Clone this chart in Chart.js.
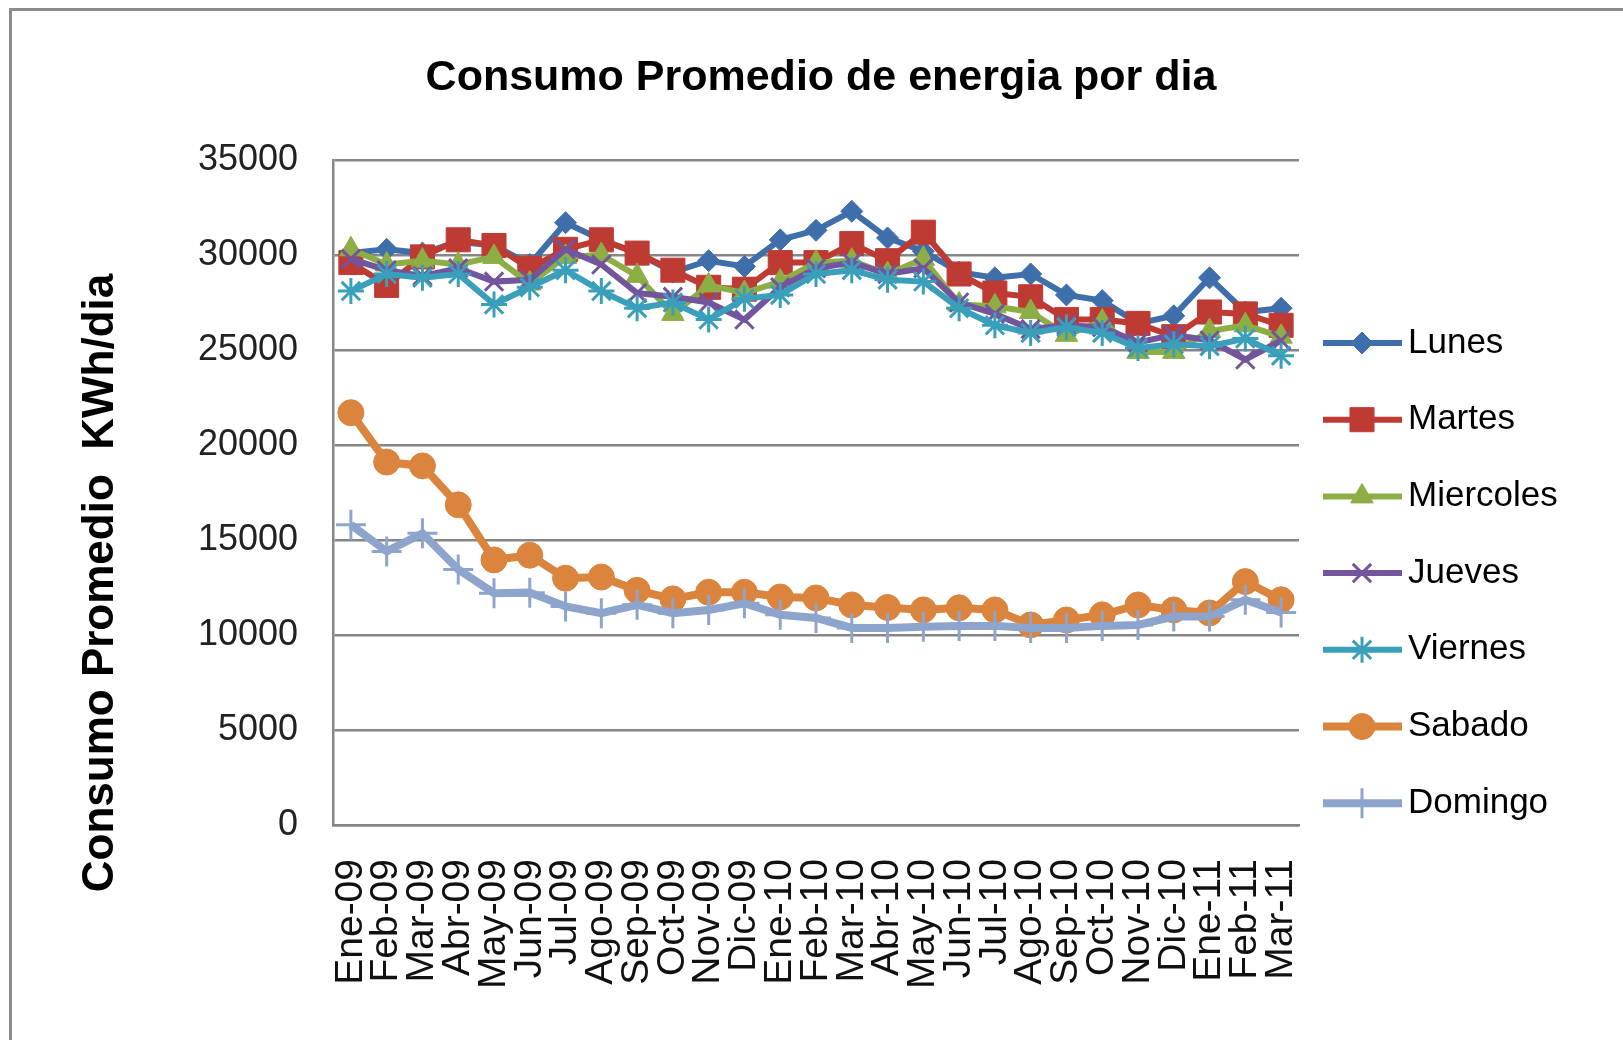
<!DOCTYPE html>
<html>
<head>
<meta charset="utf8">
<title>Consumo Promedio de energia por dia</title>
<script src="https://cdn.jsdelivr.net/npm/chart.js@4/dist/chart.umd.min.js"></script>
<style>
        body { margin: 0; background: #fff; }
        .marco {
                position: absolute; left: 9px; top: 8px;
                width: 1614px; height: 1032px;
                border-left: 3px solid #8c8c8c;
                border-top: 3px solid #8c8c8c;
        }
        .contenedor { position: absolute; left: 0; top: 0; width: 1623px; height: 1040px; }
</style>
</head>
<body>
<div class="marco"></div>
<div class="contenedor"><canvas id="myChart" width="1623" height="1040"></canvas></div>
<script>
// datos
const titulo = 'Consumo Promedio de energia por dia';
const tituloY = 'Consumo Promedio  KWh/dia';
const meses = ['Ene-09','Feb-09','Mar-09','Abr-09','May-09','Jun-09','Jul-09','Ago-09','Sep-09','Oct-09','Nov-09','Dic-09',
        'Ene-10','Feb-10','Mar-10','Abr-10','May-10','Jun-10','Jul-10','Ago-10','Sep-10','Oct-10','Nov-10','Dic-10',
        'Ene-11','Feb-11','Mar-11'];
const lunes = [30100, 30300, 30100, 30700, 30500, 29500, 31700, 30800, 30100, 29100, 29700, 29400, 30800, 31300, 32300, 30900, 30200, 29100, 28800, 29000, 27900, 27600, 26400, 26800, 28800, 27000, 27200];
const martes = [29600, 28400, 29900, 30800, 30500, 29300, 30300, 30800, 30100, 29200, 28300, 28200, 29600, 29600, 30600, 29700, 31200, 29000, 28000, 27800, 26600, 26600, 26400, 25700, 27000, 26900, 26300];
const miercoles = [30300, 29500, 29700, 29500, 29900, 28500, 29900, 30000, 28900, 26900, 28400, 28000, 28600, 29600, 29700, 29000, 29800, 27400, 27300, 27000, 25800, 26500, 24900, 24900, 26000, 26300, 25700];
const jueves = [29800, 29200, 28900, 29300, 28600, 28700, 30300, 29500, 28000, 27800, 27500, 26600, 28300, 29300, 29600, 29000, 29300, 27500, 26900, 26100, 26300, 26200, 25400, 25800, 25500, 24500, 25500];
const viernes = [28100, 29000, 28800, 29000, 27400, 28300, 29200, 28100, 27200, 27500, 26600, 27700, 27900, 29000, 29200, 28700, 28600, 27200, 26300, 25900, 26200, 25900, 25100, 25300, 25200, 25600, 24700];
const sabado = [21700, 19100, 18900, 16850, 13950, 14200, 12990, 13050, 12350, 11900, 12250, 12250, 12000, 11950, 11580, 11450, 11320, 11430, 11320, 10530, 10790, 11060, 11580, 11320, 11160, 12810, 11850];
const domingo = [15800, 14400, 15350, 13450, 12200, 12230, 11500, 11150, 11590, 11150, 11320, 11670, 11060, 10900, 10370, 10370, 10440, 10480, 10480, 10370, 10370, 10480, 10530, 10970, 10970, 11850, 11180];
const ticksY = [0, 5000, 10000, 15000, 20000, 25000, 30000, 35000];

const fuente = '"Liberation Sans", Arial, sans-serif';
const gris = '#868686';

function serie(label, data, color, estilo, radio, ancho, bordePunto, i) {
        return {
                label: label, data: data,
                borderColor: color, backgroundColor: color,
                pointBackgroundColor: color, pointBorderColor: color,
                pointStyle: estilo, pointRadius: radio, pointHoverRadius: radio,
                pointBorderWidth: bordePunto, borderWidth: ancho,
                tension: 0, order: 6 - i
        };
}

// titulo, titulo del eje y leyenda dibujados a mano (linea + marcador como en Excel)
const leyenda = {
        id: 'leyenda',
        afterDraw(chart) {
                const ctx = chart.ctx;
                ctx.save();
                ctx.font = 'bold 43px ' + fuente;
                ctx.fillStyle = '#000';
                ctx.textAlign = 'center';
                ctx.textBaseline = 'middle';
                ctx.fillText(titulo, 821, 78);

                ctx.save();
                ctx.translate(101, 583);
                ctx.rotate(-Math.PI / 2);
                ctx.font = 'bold 44px ' + fuente;
                ctx.fillText(tituloY, 0, 0);
                ctx.restore();

                ctx.font = '35px ' + fuente;
                ctx.textAlign = 'left';
                chart.data.datasets.forEach((ds, i) => {
                        const y = 343 + i * 76.7;
                        ctx.strokeStyle = ds.borderColor;
                        ctx.lineWidth = ds.borderWidth;
                        ctx.beginPath();
                        ctx.moveTo(1323, y);
                        ctx.lineTo(1402, y);
                        ctx.stroke();
                        ctx.fillStyle = ds.pointBackgroundColor;
                        ctx.lineWidth = ds.pointBorderWidth;
                        if (Chart.helpers && Chart.helpers.drawPoint) {
                                Chart.helpers.drawPoint(ctx, {pointStyle: ds.pointStyle, radius: ds.pointRadius, borderWidth: ds.pointBorderWidth, rotation: 0}, 1362, y);
                        }
                        ctx.fillStyle = '#000';
                        ctx.fillText(ds.label, 1408, y);
                });
                ctx.restore();
        }
};

const ctx = document.getElementById('myChart').getContext('2d');
const myChart = new Chart(ctx, {
        type: 'line',
        data: {
                labels: meses,
                datasets: [
                        serie('Lunes', lunes, '#3F6FAA', 'rectRot', 11, 6, 1, 0),
                        serie('Martes', martes, '#BE3B34', 'rect', 17, 6, 1, 1),
                        serie('Miercoles', miercoles, '#8DAE45', 'triangle', 13, 6, 1, 2),
                        serie('Jueves', jueves, '#72559C', 'crossRot', 13, 6, 3, 3),
                        serie('Viernes', viernes, '#3A9FBA', 'star', 13, 6, 3, 4),
                        serie('Sabado', sabado, '#DB843D', 'circle', 13, 8, 1, 5),
                        serie('Domingo', domingo, '#8DA5CC', 'cross', 15, 8, 3, 6)
                ]
        },
        options: {
                responsive: false,
                animation: false,
                layout: { padding: { left: 0, top: 160, right: 324, bottom: 0 } },
                plugins: {
                        legend: { display: false },
                        title: { display: false },
                        tooltip: { enabled: false }
                },
                scales: {
                        x: {
                                offset: true,
                                grid: { display: false, drawTicks: false },
                                border: { display: true, color: gris, width: 2.5 },
                                ticks: {
                                        autoSkip: false, minRotation: 90, maxRotation: 90,
                                        padding: 34, color: '#111',
                                        font: { family: fuente, size: 39 }
                                },
                                afterFit: (axis) => { axis.height = 215; }
                        },
                        y: {
                                min: 0, max: 35000,
                                afterBuildTicks: (axis) => { axis.ticks = ticksY.map(v => ({value: v})); },
                                grid: { color: gris, lineWidth: 2.5, drawTicks: false },
                                border: { display: true, color: gris, width: 2.5 },
                                ticks: {
                                        padding: 35, color: '#222',
                                        font: { family: fuente, size: 36 },
                                        callback: (v) => String(v)
                                },
                                title: { display: false },
                                afterFit: (axis) => { axis.width = 333; }
                        }
                }
        },
        plugins: [leyenda]
});
</script>
</body>
</html>
